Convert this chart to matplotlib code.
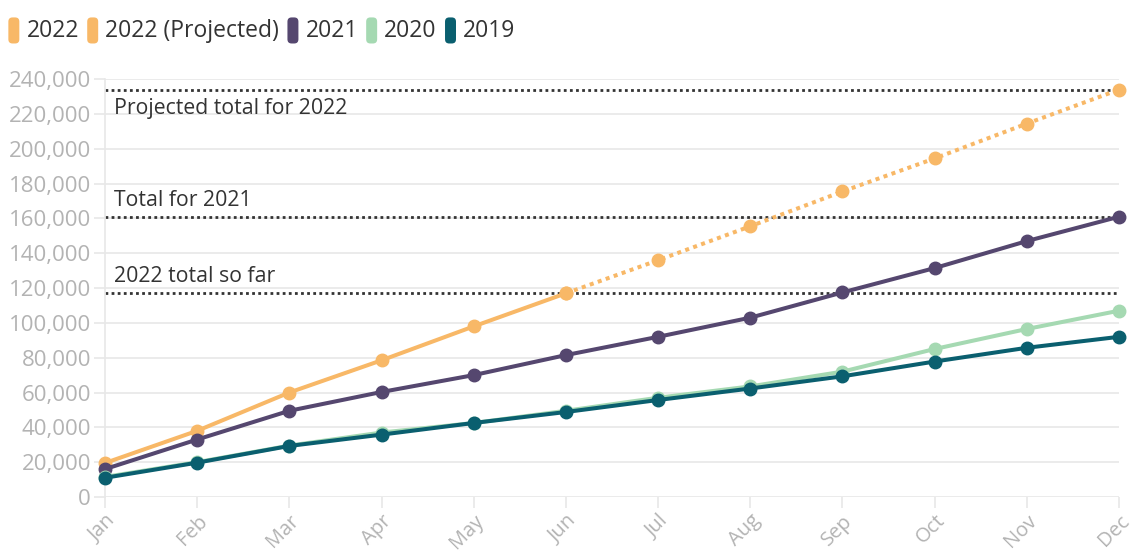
import matplotlib
matplotlib.use("Agg")
import matplotlib.pyplot as plt
from matplotlib.patches import Patch, FancyBboxPatch
from matplotlib.legend_handler import HandlerPatch
from matplotlib.ticker import FuncFormatter

plt.rcParams["font.family"] = ["Open Sans", "DejaVu Sans"]

months = ["Jan", "Feb", "Mar", "Apr", "May", "Jun",
          "Jul", "Aug", "Sep", "Oct", "Nov", "Dec"]

# cumulative totals per month
y2022 = [19500, 38000, 60000, 78500, 98000, 117000]
y2022_proj = [117000, 136000, 155500, 175500, 194500, 214500, 234000]
y2021 = [16000, 33000, 49500, 60300, 70000, 81500, 92000, 103000, 117500, 131500, 147000, 161000]
y2020 = [11500, 20000, 29500, 37000, 42500, 49500, 57000, 63500, 72000, 85000, 96500, 107000]
y2019 = [11000, 19700, 29300, 35800, 42500, 48800, 55700, 62300, 69300, 77800, 85700, 92000]

ref_values = [234000, 161000, 117000]
ref_labels = ["Projected total for 2022", "Total for 2021", "2022 total so far"]

C_2022 = "#f8b867"
C_2021 = "#55476f"
C_2020 = "#a5d9b2"
C_2019 = "#0a5f6f"


class RoundHandler(HandlerPatch):
    def create_artists(self, legend, orig_handle, xdescent, ydescent,
                       width, height, fontsize, trans):
        p = FancyBboxPatch((-xdescent + 1, -ydescent - 3), width - 2, height + 4,
                           boxstyle="round,pad=0,rounding_size=3",
                           facecolor=orig_handle.get_facecolor(),
                           edgecolor="none", transform=trans)
        return [p]


fig = plt.figure(figsize=(11.34, 5.54), dpi=100)
ax = fig.add_axes([0.0926, 0.103, 0.8942, 0.754])

x = list(range(12))
lw, ms = 2.9, 9
ax.plot(x[:6], y2022, color=C_2022, lw=lw, marker="o", ms=ms, clip_on=False, zorder=3)
ax.plot(x[5:], y2022_proj, color=C_2022, lw=lw, ls=(0, (1, 1.1)), marker="o", ms=ms,
        clip_on=False, zorder=3)
ax.plot(x, y2021, color=C_2021, lw=lw, marker="o", ms=ms, clip_on=False, zorder=4)
ax.plot(x, y2020, color=C_2020, lw=lw, marker="o", ms=ms, clip_on=False, zorder=5)
ax.plot(x, y2019, color=C_2019, lw=lw, marker="o", ms=ms, clip_on=False, zorder=6)

# reference lines with labels
for v in ref_values:
    ax.axhline(v, color="#333333", lw=2, ls=(0, (1, 1.2)), zorder=2)
for v, lab, off in zip(ref_values, ref_labels, [-11000, 9500, 9500]):
    ax.text(0.1, v + off, lab, fontsize=15.3, color="#333333",
            va="center", ha="left", zorder=7)

ax.set_xlim(0, 11)
ax.set_ylim(0, 240000)
ax.set_yticks(range(0, 240001, 20000))
ax.yaxis.set_major_formatter(FuncFormatter(lambda v, p: f"{int(v):,}"))
ax.set_xticks(x)
ax.set_xticklabels(months, rotation=45, ha="right", rotation_mode="anchor")

ax.grid(axis="y", color="#e8e8e8", lw=1.2)
ax.set_axisbelow(True)
for s in ["top", "right", "bottom"]:
    ax.spines[s].set_visible(False)
ax.spines["left"].set_color("#e8e8e8")
ax.spines["left"].set_linewidth(1.2)
ax.tick_params(axis="y", labelsize=16, length=8, width=1.2,
               color="#e8e8e8", pad=2)
ax.tick_params(axis="x", labelsize=14.5, length=8, width=1.2,
               color="#e8e8e8", pad=2)
for t in ax.get_xticklabels() + ax.get_yticklabels():
    t.set_color("#b3b3b3")

handles = [Patch(facecolor=C_2022), Patch(facecolor=C_2022), Patch(facecolor=C_2021),
           Patch(facecolor=C_2020), Patch(facecolor=C_2019)]
labels = ["2022", "2022 (Projected)", "2021", "2020", "2019"]
fig.legend(handles, labels, loc="upper left", bbox_to_anchor=(-0.008, 0.995), ncol=5,
           frameon=False, fontsize=16.5, handlelength=0.6, handleheight=1.0,
           handletextpad=0.25, columnspacing=0.3, borderaxespad=0.3,
           labelcolor="#333333", handler_map={Patch: RoundHandler()})

fig.savefig("out.png", dpi=100)
